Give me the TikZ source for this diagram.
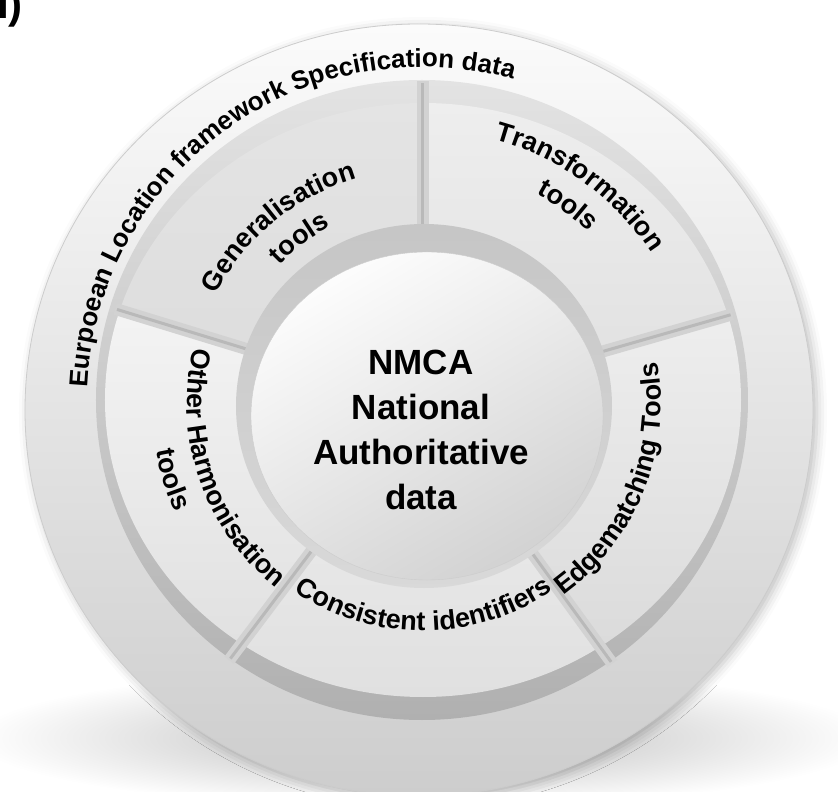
\documentclass[tikz,border=0pt]{standalone}
\usepackage{fontspec}
\setmainfont{Liberation Sans}
\usetikzlibrary{decorations.text,shadows.blur}

\definecolor{ringtop}{HTML}{FBFBFB}
\definecolor{ringmid}{HTML}{EFEFEF}
\definecolor{ringbot}{HTML}{CDCDCD}
\definecolor{segGtop}{HTML}{E4E4E4}
\definecolor{segGbot}{HTML}{D4D4D4}
\definecolor{segTtop}{HTML}{EEEEEE}
\definecolor{segTbot}{HTML}{D2D2D2}
\definecolor{segOtop}{HTML}{FFFFFF}
\definecolor{segObot}{HTML}{DEDEDE}
\definecolor{segCtop}{HTML}{FDFDFD}
\definecolor{segCbot}{HTML}{E0E0E0}
\definecolor{segEtop}{HTML}{FAFAFA}
\definecolor{segEbot}{HTML}{D8D8D8}

\newcommand{\ringfont}{\fontsize{26}{30}\selectfont\bfseries}
\newcommand{\segfont}{\fontsize{27}{32}\selectfont\bfseries}
\newcommand{\hubfont}{\fontsize{35}{45}\selectfont\bfseries}
\newcommand{\tagfont}{\fontsize{42}{48}\selectfont\bfseries}

\tikzset{
  arclabel/.style 2 args={decorate, decoration={text along path, text align=center, text={|#1|#2}}},
  gap/.style={line width=12pt, gray!35},
  gapcore/.style={line width=3pt, gray!55},
  hub/.style={align=center, font=\hubfont, inner sep=0pt},
  tag/.style={anchor=base west, inner sep=0pt, font=\tagfont},
}

\begin{document}
\begin{tikzpicture}[x=1pt, y=1pt, line join=round]
	\useasboundingbox (-423,-389) rectangle (415,403);
	% floor shadow
	\shade[inner color=gray!55, outer color=white] (0,-335) ellipse[x radius=450pt, y radius=70pt];
	% outer ring
	\path[top color=ringtop, middle color=ringmid, bottom color=ringbot, draw=gray!40, line width=0.8pt,
		blur shadow={shadow xshift=4pt, shadow yshift=-3pt, shadow blur radius=10pt, shadow opacity=25}]
		(-4,-7) ellipse[x radius=394pt, y radius=386pt];
	% groove round the tools
	\path[top color=gray!22, middle color=gray!30, bottom color=gray!62] (-1,3) ellipse[x radius=326pt, y radius=320pt];
	% the five tool segments
	\foreach \a/\b/\tc/\bc in {16/90/segTtop/segTbot, 90/163/segGtop/segGbot, 163/233/segOtop/segObot,
		233/306/segCtop/segCbot, 306/376/segEtop/segEbot}{
		\begin{scope}
			\clip (0,0) -- (\a:520pt) arc[start angle=\a, end angle=\b, radius=520pt] -- cycle;
			\path[top color=\tc, bottom color=\bc] (0,3) ellipse[x radius=318pt, y radius=297pt];
		\end{scope}
	}
	\foreach \a in {16,90,163,233,306}{
		\draw[gap] (\a:170pt) -- (\a:322pt);
		\draw[gapcore] (\a:170pt) -- (\a:320pt);
	}
	% hub
	\path[top color=gray!45, bottom color=gray!30] (1,-3) ellipse[x radius=188pt, y radius=182pt];
	\path[top color=white!98!gray, bottom color=gray!35, shading angle=30, draw=gray!40]
		(4,-13) ellipse[x radius=176pt, y radius=164pt];
	\node[hub] (hub) at (-2,-27) {NMCA\\National\\Authoritative\\data};
	% labels along the arcs
	\path[arclabel={\ringfont}{Eurpoean Location framework Specification data}]
		(185.9:336pt) arc[start angle=185.9, end angle=65.9, radius=336pt];
	\path[arclabel={\segfont}{Generalisation}]
		(164.4:234pt) arc[start angle=164.4, end angle=94.4, radius=234pt];
	\path[arclabel={\segfont}{tools}]
		(156.9:199pt) arc[start angle=156.9, end angle=96.9, radius=199pt];
	\path[arclabel={\segfont}{Transformation}]
		(89:273pt) arc[start angle=89, end angle=19, radius=273pt];
	\path[arclabel={\segfont}{tools}]
		(83.7:238pt) arc[start angle=83.7, end angle=23.7, radius=238pt];
	\path[arclabel={\segfont}{Other Harmonisation}]
		(159:236pt) arc[start angle=159, end angle=239, radius=236pt];
	\path[arclabel={\segfont}{tools}]
		(172:271pt) arc[start angle=172, end angle=222, radius=271pt];
	\path[arclabel={\segfont}{Consistent identifiers}]
		(230.2:228pt) arc[start angle=230.2, end angle=310.2, radius=228pt];
	\path[arclabel={\segfont}{Edgematching Tools}]
		(-62:238pt) arc[start angle=-62, end angle=18, radius=238pt];
	\node[tag] (tag) at (-426,384) {I)};
\end{tikzpicture}
\end{document}
